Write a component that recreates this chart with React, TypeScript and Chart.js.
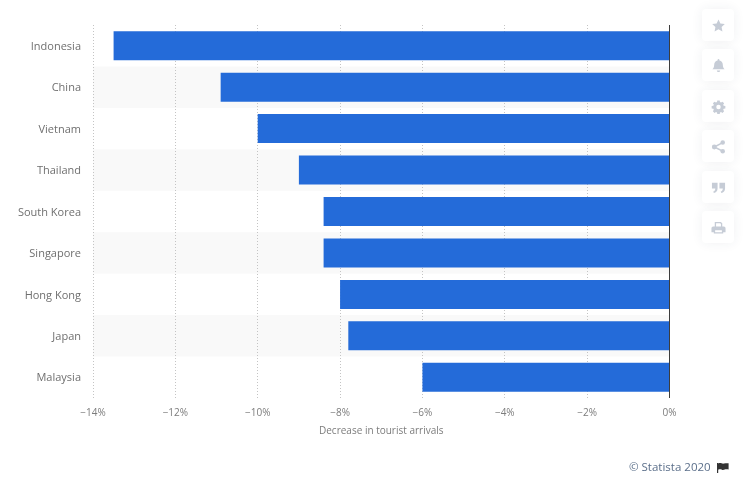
import React, { useEffect, useRef } from "react";
import { Chart, registerables } from "chart.js";

Chart.register(...registerables);

const categories = ["Indonesia", "China", "Vietnam", "Thailand", "South Korea", "Singapore", "Hong Kong", "Japan", "Malaysia"];
const decreaseValues = [-13.5, -10.9, -10, -9, -8.4, -8.4, -8, -7.8, -6];
const axisTitle = "Decrease in tourist arrivals";
const creditText = "© Statista 2020";
const FONT = '"Open Sans", sans-serif';

const bandPlugin = {
  id: "bands",
  beforeDraw(chart: any) {
    const { ctx, chartArea: a } = chart;
    const h = (a.bottom - a.top) / categories.length;
    ctx.save();
    ctx.fillStyle = "#f9f9f9";
    categories.forEach((_, i) => {
      if (i % 2 === 1) ctx.fillRect(a.left, a.top + i * h, a.right - a.left, h);
    });
    ctx.restore();
  },
};

const icons: { top: number; path: React.ReactNode }[] = [
  { top: 9, path: <path d="M8 1.5l2 4.3 4.7.6-3.4 3.2.9 4.7L8 12l-4.2 2.3.9-4.7L1.3 6.4 6 5.8z" /> },
  { top: 49, path: <path d="M8 1c.6 0 1 .4 1 1v.6c2.3.5 3.6 2.3 3.6 4.6 0 2.6.8 3.6 1.9 4.8H1.5c1.1-1.2 1.9-2.2 1.9-4.8C3.4 4.9 4.7 3.1 7 2.6V2c0-.6.4-1 1-1zM6.2 13.2h3.6A1.8 1.8 0 0 1 8 15a1.8 1.8 0 0 1-1.8-1.8z" /> },
  { top: 90, path: <path fillRule="evenodd" d="M6.7 1.5h2.6l.3 1.8 1.1.5 1.5-1 1.8 1.8-1 1.5.5 1.1 1.8.3v2.6l-1.8.3-.5 1.1 1 1.5-1.8 1.8-1.5-1-1.1.5-.3 1.8H6.7l-.3-1.8-1.1-.5-1.5 1-1.8-1.8 1-1.5-.5-1.1-1.8-.3V7.5l1.8-.3.5-1.1-1-1.5 1.8-1.8 1.5 1 1.1-.5zM8 6a2.4 2.4 0 1 0 0 4.8A2.4 2.4 0 0 0 8 6z" /> },
  { top: 130, path: <g><circle cx="3.5" cy="8.5" r="2.6" /><circle cx="12.5" cy="3.8" r="2.4" /><circle cx="12.5" cy="13" r="2.4" /><path d="M3.5 8.5l9-4.7M3.5 8.5l9 4.5" stroke="currentColor" strokeWidth="1.6" /></g> },
  { top: 171, path: <path d="M1 3h6v6c0 2.6-1.6 4.2-4 4.8l-.6-1.5C3.8 11.8 4.5 11 4.6 9H1zM9 3h6v6c0 2.6-1.6 4.2-4 4.8l-.6-1.5c1.4-.5 2.1-1.3 2.2-3.3H9z" /> },
  { top: 211, path: <path fillRule="evenodd" d="M4 2h6.5L12 3.5V7h1.5C14.9 7 15.5 8 15.5 9v4H13v1.5H3V13H.5V9C.5 8 1.1 7 2.5 7H4zm1.4 1.4V7h5.2V4.2l-.8-.8zM4.4 11v2.1h7.2V11z" /> },
];

export default function App() {
  const ref = useRef<HTMLCanvasElement | null>(null);

  useEffect(() => {
    document.body.style.margin = "0";
    const chart = new Chart(ref.current as HTMLCanvasElement, {
      type: "bar",
      data: {
        labels: categories,
        datasets: [
          {
            data: decreaseValues,
            backgroundColor: "#246bd9",
            borderWidth: 0,
            barPercentage: 0.7,
            categoryPercentage: 1,
          },
        ],
      },
      plugins: [bandPlugin],
      options: {
        indexAxis: "y",
        animation: false,
        responsive: false,
        maintainAspectRatio: false,
        layout: { padding: { top: 25, right: 73.5, bottom: 0, left: 0 } },
        plugins: { legend: { display: false }, tooltip: { enabled: false } },
        scales: {
          x: {
            type: "linear",
            min: -14,
            max: 0,
            position: "bottom",
            afterFit(s: any) {
              s.height = 81;
            },
            border: {
              display: false,
              dash: (c: any) => (c.tick && c.tick.value === 0 ? [] : [1, 2]),
            },
            grid: {
              drawTicks: false,
              lineWidth: 1,
              color: (c: any) => (c.tick && c.tick.value === 0 ? "#3d3d3d" : "#c4c4c4"),
            },
            ticks: {
              stepSize: 2,
              maxRotation: 0,
              padding: 9,
              color: "#7c7c7c",
              font: { family: FONT, size: 10 },
              callback: (v: any) => `${v < 0 ? "\u2212" : ""}${Math.abs(Number(v))}%`,
            },
            title: {
              display: true,
              text: axisTitle,
              color: "#7c7c7c",
              font: { family: FONT, size: 10 },
              padding: { top: 1, bottom: 42 },
            },
          },
          y: {
            type: "category",
            afterFit(s: any) {
              s.width = 93;
            },
            border: { display: false },
            grid: { display: false },
            ticks: {
              padding: 4,
              labelOffset: 1,
              color: "#6f6f6f",
              font: { family: FONT, size: 11 },
              autoSkip: false,
            },
          },
        },
      },
    } as any);
    return () => chart.destroy();
  }, []);

  return (
    <div style={{ position: "relative", width: 743, height: 479, overflow: "hidden", background: "#fff" }}>
      <canvas ref={ref} width={743} height={479} style={{ position: "absolute", left: 0, top: 0, display: "block" }} />
      {icons.map((ic) => (
        <div
          key={ic.top}
          style={{
            position: "absolute",
            left: 702,
            top: ic.top,
            width: 32,
            height: 32,
            borderRadius: 4,
            background: "#fff",
            boxShadow: "0 0 12px rgba(40,60,90,0.07)",
            display: "flex",
            alignItems: "center",
            justifyContent: "center",
            color: "#c6ccd6",
          }}
        >
          <svg width="15" height="15" viewBox="0 0 16 16" fill="currentColor">
            {ic.path}
          </svg>
        </div>
      ))}
      <div
        style={{
          position: "absolute",
          left: 629,
          top: 459,
          font: `11.5px ${FONT}`,
          color: "#5b6f8a",
          whiteSpace: "nowrap",
        }}
      >
        {creditText}
      </div>
      <svg style={{ position: "absolute", left: 717, top: 462 }} width="12" height="11" viewBox="0 0 12 11" fill="#333">
        <path d="M0 1h1.2v10H0zM1.2 1.5C3.5 0 5 2.2 7 1.6c1.6-.4 3-.5 4.6-.3v6.2c-1.6-.3-3-.2-4.6.3-2 .6-3.5-1.6-5.8-.1z" />
      </svg>
    </div>
  );
}
